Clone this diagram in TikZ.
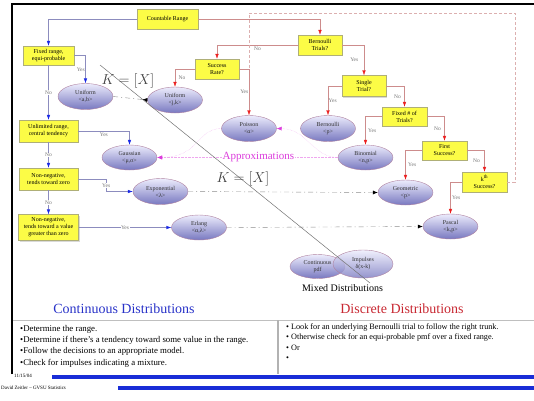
\documentclass[tikz,border=0pt]{standalone}
\usepackage{fontspec}
\setmainfont{Liberation Serif}
\usetikzlibrary{%
    arrows.meta,%
    positioning,%
    shapes.geometric,%
    shadows%
    }
\definecolor{qyellow}{RGB}{252,252,70}
\definecolor{qedge}{RGB}{175,175,120}
\definecolor{ovaltop}{RGB}{236,236,252}
\definecolor{ovalbottom}{RGB}{120,120,192}
\definecolor{ovaledge}{RGB}{175,130,160}
\definecolor{contgray}{RGB}{140,140,190}
\definecolor{contblue}{RGB}{25,40,230}
\definecolor{discpink}{RGB}{205,140,140}
\definecolor{discred}{RGB}{235,30,30}
\definecolor{approxpink}{RGB}{220,60,220}
\definecolor{titleblue}{RGB}{40,50,200}
\definecolor{titlered}{RGB}{200,40,50}
\definecolor{barblue}{RGB}{25,45,215}
\tikzset{
  question/.style={
    rectangle,
    minimum width=45pt,
    minimum height=20pt,
    inner sep=1pt,
    align=center,
    draw=qedge,
    fill=qyellow,
    drop shadow={shadow xshift=1pt,shadow yshift=-1pt,opacity=0.3},
    font=\fontsize{6}{7}\selectfont,
  },
  model/.style={
    ellipse,
    minimum width=55pt,
    minimum height=26pt,
    inner sep=0pt,
    align=center,
    draw=ovaledge,
    top color=ovaltop,
    bottom color=ovalbottom,
    text=black!80,
    font=\fontsize{6}{7}\selectfont,
  },
  answer/.style={
    inner sep=0.5pt,
    text=black!55,
    font=\fontsize{5.5}{6}\selectfont,
  },
  contarrow/.style={
    contgray,
    -{Latex[length=5pt,width=3.5pt,color=contblue]},
  },
  discarrow/.style={
    discpink,
    -{Latex[length=5pt,width=3.5pt,color=discred]},
  },
  loopback/.style={
    draw=discpink!70,
    dash pattern=on 3pt off 2pt,
  },
  mapping/.style={
    draw=black!45,
    dash pattern=on 5pt off 3pt on 1pt off 3pt,
    -{Latex[length=5pt,width=4pt,color=black]},
  },
  approx/.style={
    draw=approxpink!45,
    densely dotted,
    -{Latex[length=5pt,width=4pt,color=approxpink]},
  },
  approxtext/.style={
    fill=white,
    inner sep=1pt,
    text=approxpink,
    font=\fontsize{11}{12}\selectfont,
  },
  floorlabel/.style={
    text=black!75,
    font=\fontsize{14}{14}\selectfont,
  },
  heading/.style={
    font=\fontsize{14}{16}\selectfont,
  },
  notes/.style={
    anchor=west,
    align=left,
    inner sep=0pt,
  },
  footer/.style={
    inner sep=0pt,
    font=\fontsize{5}{6}\selectfont,
  },
}

\begin{document}
\begin{tikzpicture}[x=1pt,y=-1pt]
\useasboundingbox (0,0) rectangle (534,400);

% slide frame, notes and footer
\draw[line width=1.3pt] (12,374) -- (12,4) -- (534,4);
\draw[black!25, line width=0.8pt] (13,320) -- (534,320);
\draw[black!30, line width=1.5pt] (278,320) -- (278,374);
\fill[barblue] (52,374.5) rectangle (534,379);
\fill[barblue] (118,385.5) rectangle (534,390);
\node[footer, anchor=west] 
  (slidedate) 
  at (14,376) 
  {11/15/04};
\node[footer, anchor=west] 
  (slideauthor) 
  at (1,388) 
  {David Zeitler – GVSU Statistics};

\node[heading, text=titleblue] 
  (conttitle) 
  at (124,309) 
  {Continuous Distributions};
\node[heading, text=titlered] 
  (disctitle) 
  at (402,309) 
  {Discrete Distributions};
\node[notes, font=\fontsize{8.8}{11.3}\selectfont] 
  (contnotes) 
  at (20,346) 
  {•Determine the range.\\
   •Determine if there's a tendency toward some value in the range.\\
   •Follow the decisions to an appropriate model.\\
   •Check for impulses indicating a mixture.};
\node[notes, font=\fontsize{8.2}{10.5}\selectfont] 
  (discnotes) 
  at (286,342) 
  {• Look for an underlying Bernoulli trial to follow the right trunk.\\
   • Otherwise check for an equi-probable pmf over a fixed range.\\
   • Or\\
   •};

% decisions
\node[question, minimum width=61pt] 
  (count) 
  at (167.5,19) 
  {Countable Range};
\node[question, minimum width=51pt, minimum height=19pt] 
  (fixedrange) 
  at (48.5,55.5) 
  {Fixed range,\\equi-probable};
\node[question, minimum width=59pt, minimum height=22pt] 
  (unlimited) 
  at (48.5,131) 
  {Unlimited range,\\central tendency};
\node[question, minimum width=59pt, minimum height=22pt] 
  (towardzero) 
  at (48.5,179) 
  {Non-negative,\\tends toward zero};
\node[question, minimum width=60pt, minimum height=26pt] 
  (towardvalue) 
  at (48.5,227.5) 
  {Non-negative,\\tends toward a value\\greater than zero};
\node[question, minimum width=44pt] 
  (bernoulliq) 
  at (320,45) 
  {Bernoulli\\Trials?};
\node[question, minimum width=44pt] 
  (rate) 
  at (217,69) 
  {Success\\Rate?};
\node[question, minimum width=44pt, minimum height=21pt] 
  (single) 
  at (364,86) 
  {Single\\Trial?};
\node[question, minimum height=19pt] 
  (fixedn) 
  at (404.5,116.5) 
  {Fixed \# of\\Trials?};
\node[question, minimum height=19pt] 
  (first) 
  at (444.5,150.5) 
  {First\\Success?};
\node[question] 
  (kth) 
  at (484.5,182) 
  {k\textsuperscript{th}\\Success?};

% models
\node[model] 
  (unifab) 
  at (85.5,96.5) 
  {Uniform\\<a,b>};
\node[model, minimum height=25pt] 
  (gaussian) 
  at (129.5,157.5) 
  {Gaussian\\<μ,σ>};
\node[model] 
  (exponential) 
  at (160.5,191.5) 
  {Exponential\\<λ>};
\node[model, minimum height=25pt] 
  (erlang) 
  at (199,227.5) 
  {Erlang\\<α,λ>};
\node[model] 
  (unifjk) 
  at (175,100) 
  {Uniform\\<j,k>};
\node[model] 
  (poisson) 
  at (249,128.5) 
  {Poisson\\<α>};
\node[model] 
  (bernoulli) 
  at (328,128.5) 
  {Bernoulli\\<p>};
\node[model, minimum height=25pt] 
  (binomial) 
  at (365.5,157.5) 
  {Binomial\\<n,p>};
\node[model, minimum height=25pt] 
  (geometric) 
  at (405.5,192.5) 
  {Geometric\\<p>};
\node[model, minimum height=25pt] 
  (pascal) 
  at (450.5,226.5) 
  {Pascal\\<k,p>};
\node[model, minimum height=24pt] 
  (contpdf) 
  at (317.5,266.5) 
  {Continuous\\pdf};
\node[model, minimum width=60pt, minimum height=28pt, fill opacity=0.8, text opacity=1] 
  (impulses) 
  at (363,264) 
  {Impulses\\δ(x-k)};
\node[font=\fontsize{10}{12}\selectfont] 
  (mixedtitle) 
  at (342.5,288) 
  {Mixed Distributions};

\begin{scope}[contarrow]
\draw
  (count.west) -| (fixedrange.north);
\draw
  (fixedrange.east) -| node[answer, pos=0.75, left] (yesab) {Yes} (unifab.north);
\draw
  (fixedrange.south) -- node[answer, fill=white] (nofixed) {No} (unlimited.north);
\draw
  (unlimited.east) -| node[answer, pos=0.25, below=1pt] (yesgauss) {Yes} (gaussian.north);
\draw
  (unlimited.south) -- node[answer, fill=white] (nounlim) {No} (towardzero.north);
\draw
  (towardzero.east) -- ++(28,0) |- node[answer, pos=0.25, fill=white] (yesexp) {Yes} (exponential.west);
\draw
  (towardzero.south) -- node[answer, fill=white] (nozero) {No} (towardvalue.north);
\draw
  (towardvalue.east) -- node[answer, fill=white] (yeserlang) {Yes} (erlang.west);
\end{scope}

\begin{scope}[discarrow]
\draw
  (count.east) -| (bernoulliq.north);
\draw
  (bernoulliq.west) -| node[answer, pos=0.25, below=1pt] (nobern) {No} (rate.north);
\draw
  (rate.west) -| node[answer, pos=0.75, right=3pt] (norate) {No} (unifjk.north);
\draw
  (rate.east) -| node[answer, pos=0.75, left] (yesrate) {Yes} (poisson.north);
\draw
  (bernoulliq.east) -| node[answer, pos=0.75, left=5pt] (yesbern) {Yes} (single.north);
\draw
  (single.west) -| node[answer, pos=0.75, right] (yessingle) {Yes} (bernoulli.north);
\draw
  (single.east) -| node[answer, pos=0.75, left=3pt] (nosingle) {No} (fixedn.north);
\draw
  (fixedn.west) -| node[answer, pos=0.75, right=2pt] (yesfixed) {Yes} (binomial.north);
\draw
  (fixedn.east) -| node[answer, pos=0.75, left=3pt] (nofixedn) {No} (first.north);
\draw
  (first.west) -| node[answer, pos=0.75, right=2pt] (yesfirst) {Yes} (geometric.north);
\draw
  (first.east) -| node[answer, pos=0.75, left=4pt] (nofirst) {No} (kth.north);
\draw
  (kth.west) -| node[answer, pos=0.75, right=1pt] (yeskth) {Yes} (pascal.north);
\end{scope}

\coordinate (loopcorner) at (515,13);
\draw[loopback]
  (kth.east) -| (loopcorner) -| (poisson.north |- rate.east);

\begin{scope}[mapping]
\draw[-{Latex[reversed,length=5pt,width=4pt,color=black]}]
  (unifab.east) -- (unifjk.west);
\draw
  (exponential.east) -- (geometric.west);
\draw
  (erlang.east) -- (pascal.west);
\end{scope}

\begin{scope}[approx]
\draw
  (binomial.west) -- node[approxtext, pos=0.44] (approxlabel) {Approximations} (gaussian.east);
\draw
  (binomial.west) .. controls (312,157) and (308,129) .. (poisson.east);
\draw
  (poisson.west) .. controls (196,129) and (200,157) .. (gaussian.east);
\end{scope}

\coordinate (cutstart) at (100,65);
\coordinate (cutend) at (370,283);
\draw[black!55, line width=0.5pt] (cutstart) -- (cutend);
\node[floorlabel] 
  (floorupper) 
  at (128,81) 
  {$K=[X]$};
\node[floorlabel] 
  (floorlower) 
  at (243,179) 
  {$K=[X]$};
\end{tikzpicture}
\end{document}
